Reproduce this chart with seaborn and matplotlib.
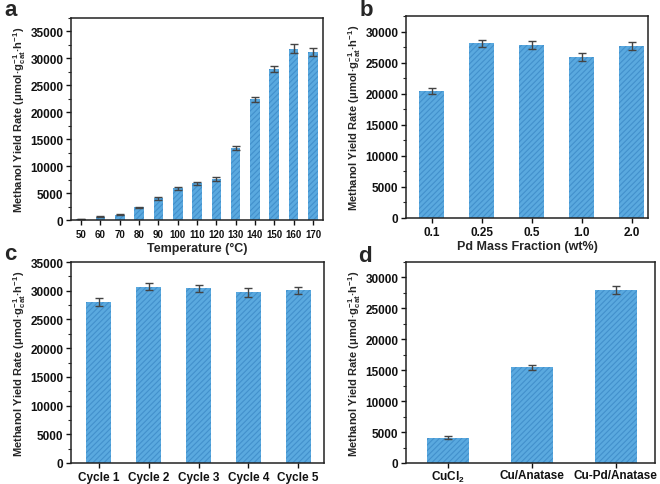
import matplotlib
matplotlib.use("Agg")
import matplotlib.pyplot as plt
import seaborn as sns
import pandas as pd
from matplotlib.ticker import MultipleLocator

# ---- data ----
temp_labels = ["50", "60", "70", "80", "90", "100", "110", "120", "130", "140", "150", "160", "170"]
temp_values = [200, 600, 1000, 2400, 4000, 5900, 6800, 7600, 13400, 22400, 28000, 31800, 31200]
temp_errors = [60, 80, 100, 100, 200, 250, 250, 300, 400, 500, 600, 800, 800]

pd_labels = ["0.1", "0.25", "0.5", "1.0", "2.0"]
pd_values = [20400, 28100, 27800, 25900, 27700]
pd_errors = [500, 600, 600, 600, 600]

cycle_labels = ["Cycle 1", "Cycle 2", "Cycle 3", "Cycle 4", "Cycle 5"]
cycle_values = [28000, 30700, 30400, 29700, 30100]
cycle_errors = [650, 650, 550, 750, 600]

cat_labels = ["CuCl$_2$", "Cu/Anatase", "Cu-Pd/Anatase"]
cat_values = [4100, 15500, 28000]
cat_errors = [250, 400, 600]

sns.set_theme(style="ticks")
plt.rcParams["font.family"] = ["Liberation Sans", "DejaVu Sans"]
plt.rcParams["font.weight"] = "bold"
plt.rcParams["axes.labelweight"] = "bold"
plt.rcParams["mathtext.fontset"] = "custom"
plt.rcParams["mathtext.rm"] = "Liberation Sans:bold"
plt.rcParams["mathtext.it"] = "Liberation Sans:bold"
plt.rcParams["mathtext.bf"] = "Liberation Sans:bold"
plt.rcParams["mathtext.default"] = "rm"
plt.rcParams["hatch.linewidth"] = 0.8

FACE = "#5aa9df"
HATCH = "#4290cc"
YLABEL = r"Methanol Yield Rate (μmol·g$_{cat}^{-1}$·h$^{-1}$)"

fig = plt.figure(figsize=(6.6, 4.85), dpi=100)


def panel(rect, labels, values, errors, ylim, ymaj, xlabel, xlim, xsize=8.5, xpad=2):
    ax = fig.add_axes(rect)
    df = pd.DataFrame({"cat": labels, "val": values})
    sns.barplot(data=df, x="cat", y="val", ax=ax, color=FACE, width=0.5,
                saturation=1, edgecolor=HATCH, linewidth=0, hatch="//////")
    ax.errorbar(range(len(values)), values, yerr=errors, fmt="none",
                ecolor="#444444", elinewidth=1.0, capsize=3, capthick=1.0)
    ax.set_ylim(*ylim)
    ax.set_xlim(*xlim)
    ax.yaxis.set_major_locator(MultipleLocator(ymaj))
    ax.yaxis.set_minor_locator(MultipleLocator(ymaj / 2))
    ax.set_ylabel(YLABEL, fontsize=8, fontweight="bold", labelpad=1.5)
    ax.set_xlabel(xlabel, fontsize=9, fontweight="bold", labelpad=2)
    for s in ax.spines.values():
        s.set_visible(True)
        s.set_linewidth(1.1)
        s.set_color("#222222")
    ax.tick_params(axis="both", which="major", direction="out", length=3.5,
                   width=1.0, labelsize=8.5, pad=2, colors="#111111",
                   top=False, right=False)
    ax.tick_params(axis="x", which="major", labelsize=xsize, pad=xpad)
    ax.tick_params(axis="y", which="minor", direction="out", length=2,
                   width=0.8, left=True, right=False)
    for t in ax.get_xticklabels() + ax.get_yticklabels():
        t.set_fontweight("bold")
    return ax


panel([0.1076, 0.5443, 0.3818, 0.4165], temp_labels, temp_values, temp_errors,
      (0, 37500), 5000, "Temperature (°C)", (-0.52, 12.52), xsize=7, xpad=3)
panel([0.6152, 0.5485, 0.3667, 0.4165], pd_labels, pd_values, pd_errors,
      (0, 32500), 5000, "Pd Mass Fraction (wt%)", (-0.51, 4.33))
panel([0.1076, 0.0433, 0.3833, 0.4144], cycle_labels, cycle_values, cycle_errors,
      (0, 35000), 5000, "", (-0.56, 4.52))
panel([0.6152, 0.0433, 0.3773, 0.4144], cat_labels, cat_values, cat_errors,
      (0, 32500), 5000, "", (-0.5, 2.47), xsize=8.5, xpad=1)

for txt, x, y in [("a", 11, 10), ("b", 366, 10), ("c", 10, 255), ("d", 365, 256)]:
    fig.text(x / 660, 1 - y / 485, txt, fontsize=16, fontweight="bold",
             ha="center", va="center")

fig.savefig("out.png", dpi=100)
